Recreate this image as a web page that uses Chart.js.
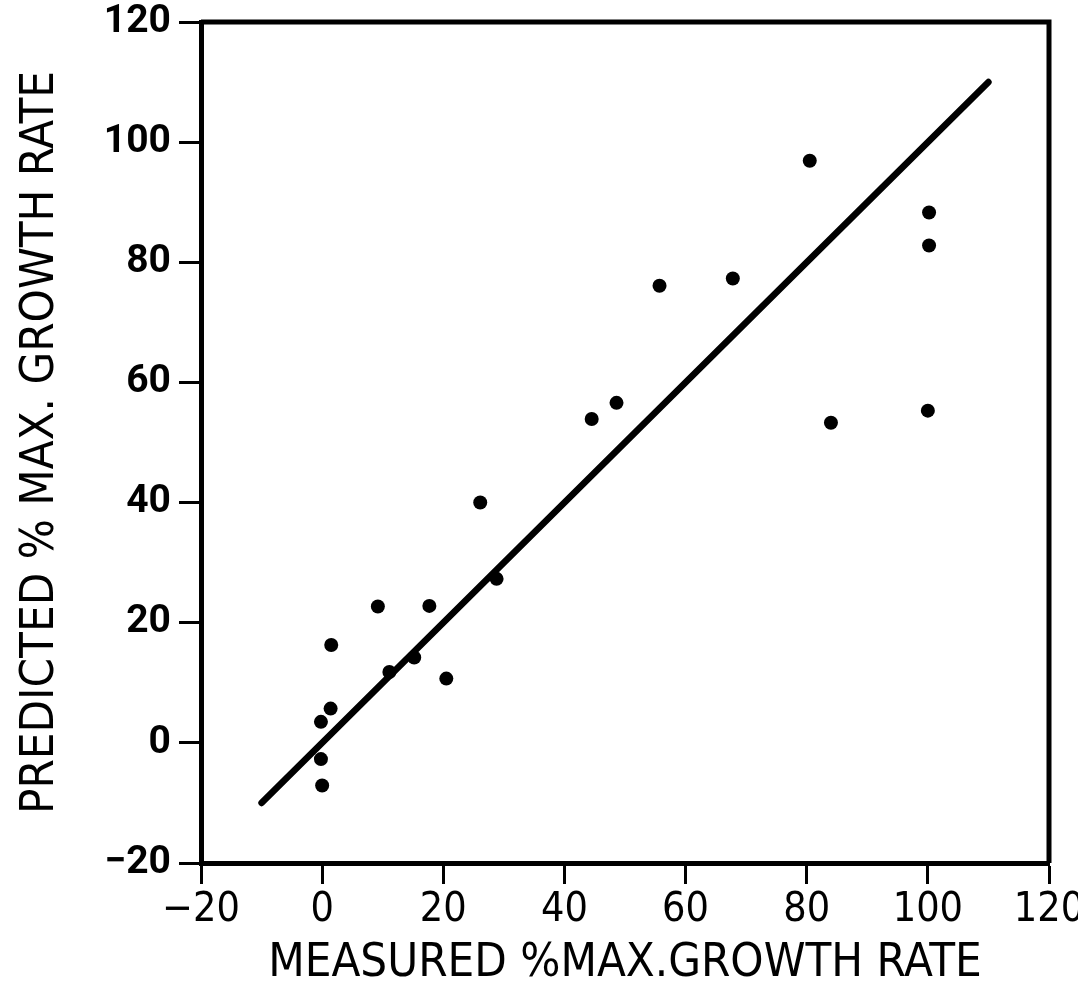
<!DOCTYPE html>
<html>
<head>
<meta charset="utf-8">
<script src="https://cdn.jsdelivr.net/npm/chart.js@4.4.1/dist/chart.umd.min.js"></script>
<style>
  html, body { margin: 0; padding: 0; background: #fff; }
  #wrap { width: 1078px; height: 993px; }
</style>
</head>
<body>
<div id="wrap"><canvas id="growthChart" width="1078" height="993"></canvas></div>
<script>
// measured vs predicted % of max growth rate
const measured  = [80.5, 100.2, 100.2, 67.8, 55.7, 48.6, 44.5, 84.0, 100.0, 26.1, 28.8,
                   9.2, 17.7, 1.5, 11.1, 15.2, 20.5, 1.4, -0.2, -0.2, 0.0];
const predicted = [96.9, 88.3, 82.8, 77.3, 76.1, 56.6, 53.9, 53.3, 55.3, 40.0, 27.3,
                   22.7, 22.8, 16.3, 11.8, 14.2, 10.7, 5.7, 3.5, -2.7, -7.1];

// 1:1 reference line end points
const lineX = [-10, 110];
const lineY = [-10, 110];

const axisMin = -20, axisMax = 120, axisStep = 20;

const points = measured.map((x, i) => ({ x, y: predicted[i] }));
const fitLine = lineX.map((x, i) => ({ x, y: lineY[i] }));

// closes the box: top and right edges of the plot area
const framePlugin = {
  id: 'frame',
  afterDraw(chart) {
    const { ctx, chartArea: a } = chart;
    ctx.save();
    ctx.strokeStyle = '#000';
    ctx.lineWidth = 5;
    ctx.beginPath();
    ctx.moveTo(a.left, a.top);
    ctx.lineTo(a.right, a.top);
    ctx.lineTo(a.right, a.bottom);
    ctx.stroke();
    ctx.restore();
  }
};

const narrow = "'DejaVu Sans Condensed', 'Liberation Sans Narrow', sans-serif";

new Chart(document.getElementById('growthChart'), {
  type: 'scatter',
  plugins: [framePlugin],
  data: {
    datasets: [
      {
        data: points,
        backgroundColor: '#000',
        borderColor: '#000',
        pointRadius: 7,
        pointBorderWidth: 0,
      },
      {
        type: 'line',
        data: fitLine,
        borderColor: '#000',
        borderWidth: 6.5,
        borderCapStyle: 'round',
        pointRadius: 0,
        fill: false,
      }
    ]
  },
  options: {
    responsive: false,
    animation: false,
    layout: { padding: { top: 22, right: 29, left: 0, bottom: 0 } },
    plugins: {
      legend: { display: false },
      tooltip: { enabled: false }
    },
    scales: {
      x: {
        type: 'linear',
        min: axisMin, max: axisMax,
        ticks: {
          stepSize: axisStep,
          color: '#000',
          padding: 2,
          font: { family: narrow, size: 41 },
          callback: (v) => v < 0 ? '\u2212' + Math.abs(v) : v
        },
        grid: { drawOnChartArea: false, drawTicks: true, tickLength: 21, tickWidth: 3, tickColor: '#000' },
        border: { display: true, color: '#000', width: 5 },
        title: {
          display: true,
          text: 'MEASURED %MAX.GROWTH RATE',
          color: '#000',
          font: { family: narrow, size: 47, lineHeight: 1 },
          padding: { top: 0, bottom: 6 }
        },
        afterFit(scale) {
          scale.height = 130;
          scale.paddingLeft = 0;
          scale.paddingRight = 0;
        }
      },
      y: {
        type: 'linear',
        min: axisMin, max: axisMax,
        ticks: {
          stepSize: axisStep,
          color: '#000',
          padding: 8,
          font: { family: 'Roboto', size: 39, weight: 'bold' },
          callback: (v) => v < 0 ? '\u2212' + Math.abs(v) : v
        },
        grid: { drawOnChartArea: false, drawTicks: true, tickLength: 22, tickWidth: 3, tickColor: '#000' },
        border: { display: true, color: '#000', width: 5 },
        title: {
          display: true,
          text: 'PREDICTED % MAX. GROWTH RATE',
          color: '#000',
          font: { family: narrow, size: 47, lineHeight: 1 },
          padding: { top: 17, bottom: 0 }
        },
        afterFit(scale) {
          scale.width = 201;
          scale.paddingTop = 0;
          scale.paddingBottom = 0;
        }
      }
    }
  }
});
</script>
</body>
</html>
